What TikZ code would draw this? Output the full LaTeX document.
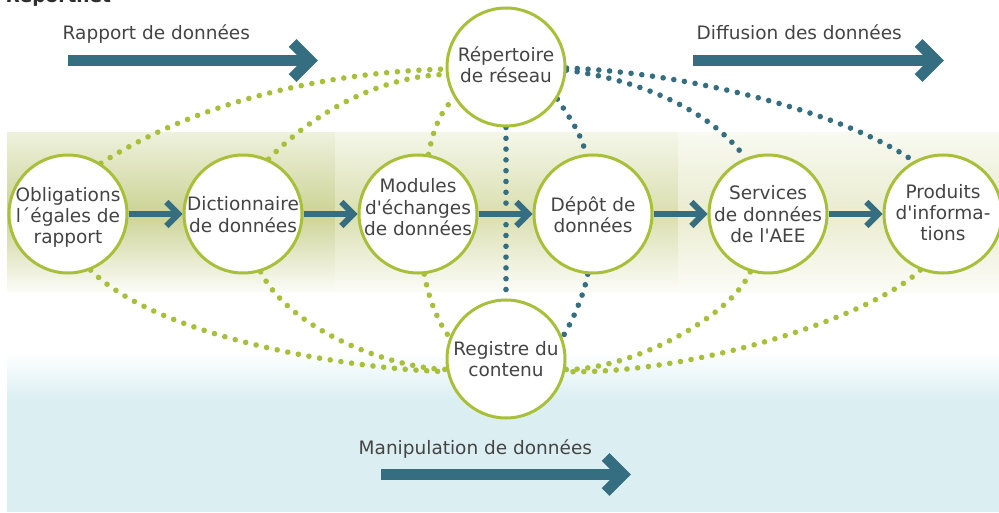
\documentclass[tikz,border=0pt]{standalone}
\usepackage{fontspec}
\setmainfont{DejaVu Sans}
\usetikzlibrary{calc}
\definecolor{teal1}{RGB}{52,110,128}
\definecolor{green1}{RGB}{168,191,58}
\definecolor{txt}{RGB}{68,68,68}
\definecolor{ttltxt}{RGB}{45,45,45}
\definecolor{lt1}{RGB}{238,241,220}
\definecolor{md1}{RGB}{203,211,148}
\definecolor{lt2}{RGB}{244,246,232}
\definecolor{md2}{RGB}{217,223,175}
\definecolor{lt3}{RGB}{248,249,240}
\definecolor{md3}{RGB}{233,236,207}
\definecolor{bot}{RGB}{252,252,248}
\definecolor{blue1}{RGB}{219,239,243}
\pgfdeclarelayer{bg}
\pgfdeclarelayer{mid}
\pgfsetlayers{bg,mid,main}
\newcommand\clab[2]{\raisebox{#1}[0pt][0pt]{\begin{tabular}[t]{@{}c@{}}#2\end{tabular}}}
\newcommand\qs{\textquotesingle}
\begin{document}
\begin{tikzpicture}[x=1pt,y=-1pt,
  cnode/.style={circle, draw=green1, line width=3pt, fill=white, minimum size=118pt,
    inner sep=0pt, text=txt, font=\fontsize{18.5}{21}\selectfont},
  toplbl/.style={anchor=base west, inner sep=0pt, text=txt, font=\fontsize{18.5}{21}\selectfont},
  gdots/.style={draw=green1, line width=5.6pt, line cap=round, dash pattern=on 0pt off 10.8pt},
  tdots/.style={draw=teal1, line width=5.6pt, line cap=round, dash pattern=on 0pt off 10.8pt},
  bigshaft/.style={draw=teal1, line width=11pt},
  bigchev/.style={draw=teal1, line width=11pt, line join=miter, miter limit=10},
  smshaft/.style={draw=teal1, line width=6pt},
  smchev/.style={draw=teal1, line width=6pt, line join=miter, miter limit=10}]
\useasboundingbox (0,0) rectangle (999,513);
\clip (0,0) rectangle (999,513);

% circles
\node[cnode] (obl) at (68,214) {\clab{12.3pt}{Obligations\\l´égales de\\rapport}};
\node[cnode] (dic) at (243,214) {\clab{3pt}{Dictionnaire\\de données}};
\node[cnode] (mod) at (418,214) {\clab{21pt}{Modules\\d\qs échanges\\de données}};
\node[cnode] (dep) at (593,214) {\clab{2.5pt}{Dépôt de\\données}};
\node[cnode] (ser) at (768,214) {\clab{14pt}{Services\\de données\\de l\qs AEE}};
\node[cnode] (pro) at (943,214) {\clab{15pt}{Produits\\d\qs informa-\\tions}};
\node[cnode] (rep) at (506,67) {\clab{5.3pt}{Répertoire\\de réseau}};
\node[cnode] (reg) at (506,359) {\clab{3.3pt}{Registre du\\contenu}};

% labels
\node[anchor=base west, inner sep=0pt, text=ttltxt, font=\bfseries\fontsize{18.5}{21}\selectfont] (ttl) at (5.5,3) {Reportnet};
\node[toplbl] (lrap) at (62.5,40) {Rapport de données};
\node[toplbl] (ldif) at (696.5,40) {Diffusion des données};
\node[toplbl] (lman) at (358.5,454) {Manipulation de données};

\begin{pgfonlayer}{bg}
  \fill[white] (0,0) rectangle (999,513);
  \shade[top color=lt1, bottom color=md1] (7,133) rectangle (335.5,214.5);
  \shade[top color=md1, bottom color=bot] (7,214) rectangle (335.5,292);
  \shade[top color=lt2, bottom color=md2] (335,133) rectangle (678.5,214.5);
  \shade[top color=md2, bottom color=bot] (335,214) rectangle (678.5,292);
  \shade[top color=lt3, bottom color=md3] (678,133) rectangle (999,214.5);
  \shade[top color=md3, bottom color=bot] (678,214) rectangle (999,292);
  \shade[top color=white, bottom color=blue1] (7,352) rectangle (999,398);
  \fill[blue1] (7,397.5) rectangle (999,511.5);
\end{pgfonlayer}

\begin{pgfonlayer}{mid}
  % upper green
  \draw[gdots] (obl.57) .. controls (200,100) and (330,72) .. (rep.182);
  \draw[gdots] (dic.65) .. controls (318,108) and (385,76) .. (rep.187);
  \draw[gdots] (mod.80) .. controls (433,130) and (440,112) .. (rep.211);
  % upper teal
  \draw[tdots] (rep.south) -- (reg.north);
  \draw[tdots] (rep.-32) .. controls (570,118) and (582,135) .. (dep.97);
  \draw[tdots] (rep.-3) .. controls (640,80) and (710,110) .. (ser.112);
  \draw[tdots] (rep.-1) .. controls (680,72) and (840,110) .. (pro.119);
  % lower green
  \draw[gdots] (obl.-68) .. controls (160,340) and (360,370) .. (reg.192);
  \draw[gdots] (dic.-73) .. controls (290,330) and (390,368) .. (reg.190);
  \draw[gdots] (mod.-84) .. controls (429,300) and (438,322) .. (reg.159);
  % lower teal
  \draw[tdots] (dep.-95) .. controls (584,295) and (572,322) .. (reg.21);
  % lower green right
  \draw[gdots] (ser.-107) .. controls (730,318) and (630,370) .. (reg.-10);
  \draw[gdots] (pro.-112) .. controls (870,318) and (690,375) .. (reg.-12);
\end{pgfonlayer}

% flow arrows between circles
\foreach \a/\b in {obl/dic,dic/mod,mod/dep,dep/ser,ser/pro}{
  \draw[smshaft] (\a.east) -- ($(\b.west)+(-5,0)$);
  \draw[smchev] ($(\b.west)+(-16.2,-12)$) -- ($(\b.west)+(-4.2,0)$) -- ($(\b.west)+(-16.2,12)$);
}

% big arrows
\coordinate (ra1) at (68,60.5);   \coordinate (ra2) at (318,60.5);
\coordinate (da1) at (693,60.5);  \coordinate (da2) at (944,60.5);
\coordinate (ma1) at (381,474.5); \coordinate (ma2) at (631,474.5);
\foreach \s/\t in {ra1/ra2,da1/da2,ma1/ma2}{
  \draw[bigshaft] (\s) -- ($(\t)+(-9,0)$);
  \draw[bigchev] ($(\t)+(-25.4,-17.6)$) -- ($(\t)+(-7.8,0)$) -- ($(\t)+(-25.4,17.6)$);
}
\end{tikzpicture}
\end{document}
